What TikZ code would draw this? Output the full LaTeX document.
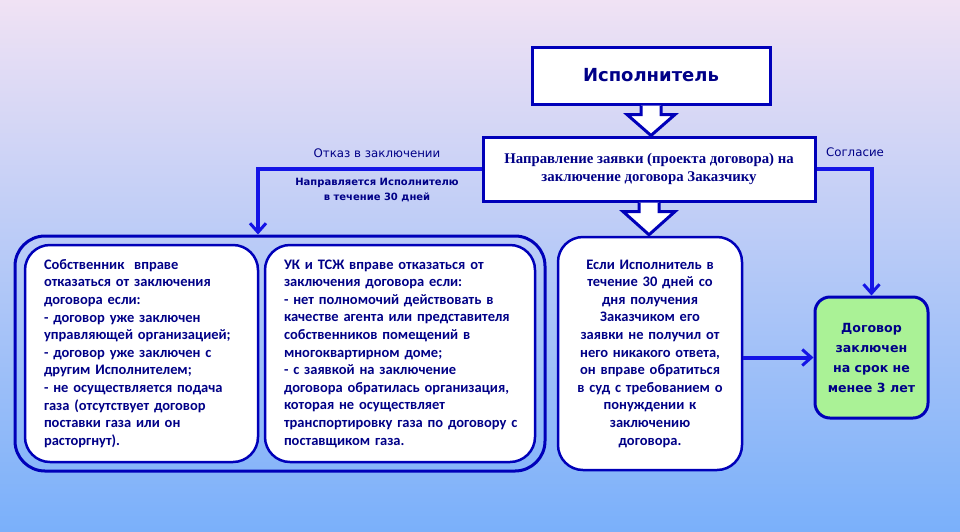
\documentclass[tikz,border=0pt]{standalone}
\usepackage{fontspec}
\setmainfont{Carlito}
\newfontfamily\dejavu{DejaVu Sans}
\newfontfamily\libserif{Liberation Serif}
\usetikzlibrary{arrows.meta,calc}
\definecolor{bordblue}{RGB}{0,0,185}
\definecolor{lineblue}{RGB}{20,20,230}
\definecolor{txtblue}{RGB}{0,0,135}
\definecolor{greenfill}{RGB}{170,242,150}
\definecolor{bgtop}{RGB}{240,226,244}
\definecolor{bgmid}{RGB}{180,204,244}
\definecolor{bgbot}{RGB}{122,176,250}
\begin{document}
\begin{tikzpicture}[x=1pt,y=-1pt,
  box/.style={draw=bordblue, line width=3pt, fill=white, inner sep=0pt},
  rbox/.style={box, rounded corners=25pt, line width=2.5pt},
  bodytext/.style={font=\bfseries\fontsize{14.5}{17.6}\selectfont, text=txtblue},
  conn/.style={draw=lineblue, line width=4pt, -{Straight Barb[length=9pt,width=16pt,line width=3pt]}},
  blockarrow/.style={draw=bordblue, line width=3pt, fill=white, line join=miter},
  lbl/.style={text=txtblue, inner sep=0pt, font=\dejavu\fontsize{11.8}{14}\selectfont}
]
\useasboundingbox (0,0) rectangle (960,531);
\shade[top color=bgtop, middle color=bgmid, bottom color=bgbot] (0,0) rectangle (960,531);

% outer frame
\node[draw=bordblue, line width=3pt, rounded corners=30pt, minimum width=530pt, minimum height=235pt] (outer) at (280,353.5) {};

% boxes
\node[box, minimum width=238pt, minimum height=57pt, text=txtblue, font=\dejavu\bfseries\fontsize{18}{22}\selectfont] (isp) at (651,75.5) {Исполнитель};
\node[box, minimum width=332pt, minimum height=64pt, text=txtblue, align=center, font=\libserif\bfseries\fontsize{14.8}{18}\selectfont] (napr) at (649,169) {Направление заявки (проекта договора) на\\заключение договора Заказчику};

\node[rbox, bodytext, minimum width=233pt, minimum height=217pt, text width=195pt, align=left] (sob) at (141.5,353.5)
{Собственник\ \ вправе\\отказаться от заключения\\договора если:\\- договор уже заключен\\управляющей организацией;\\- договор уже заключен с\\другим Исполнителем;\\- не осуществляется подача\\газа (отсутствует договор\\поставки газа или он\\расторгнут).};

\node[rbox, bodytext, minimum width=270pt, minimum height=217pt, text width=232pt, align=left] (uk) at (400,353.5)
{УК и ТСЖ вправе отказаться от\\заключения договора если:\\- нет полномочий действовать в\\качестве агента или представителя\\собственников помещений в\\многоквартирном доме;\\- с заявкой на заключение\\договора обратилась организация,\\которая не осуществляет\\\mbox{транспортировку газа по договору с}\\поставщиком газа.};

\node[rbox, bodytext, minimum width=184pt, minimum height=233pt, text width=170pt, align=center] (esli) at (650,353.5)
{Если Исполнитель в\\течение 30 дней со\\дня получения\\Заказчиком его\\заявки не получил от\\него никакого ответа,\\он вправе обратиться\\в суд с требованием о\\понуждении к\\заключению\\договора.};

\node[box, fill=greenfill, rounded corners=15pt, minimum width=113pt, minimum height=121pt, align=center, text=txtblue, font=\dejavu\bfseries\fontsize{12.6}{20}\selectfont] (green) at (871.5,357.5)
{Договор\\заключен\\на срок не\\менее 3 лет};

% block arrows
\draw[blockarrow] ($(isp.south)+(-10,0)$) -- ++(0,9) -- ++(-14,0) -- (napr.north -| isp.south) -- ($(isp.south)+(24,9)$) -- ++(-14,0) -- ++(0,-9);
\draw[blockarrow] ($(napr.south)+(-10,0)$) -- ++(0,9) -- ++(-16,0) -- ($(esli.north)+(-1,-1)$) -- ($(napr.south)+(26,9)$) -- ++(-16,0) -- ++(0,-9);

% connectors
\draw[conn] (napr.west) -| ($(outer.north)+(-22,0)$);
\draw[conn] (napr.east) -| (green.north);
\draw[conn] (esli.east |- green.west) -- (green.west);

% labels
\node[lbl] (otkaz) at (377,153) {Отказ в заключении};
\node[lbl, align=center, font=\dejavu\bfseries\fontsize{10}{15}\selectfont] (napravl) at (377,190) {Направляется Исполнителю\\в течение 30 дней};
\node[lbl] (soglas) at (855,152) {Согласие};
\end{tikzpicture}
\end{document}
